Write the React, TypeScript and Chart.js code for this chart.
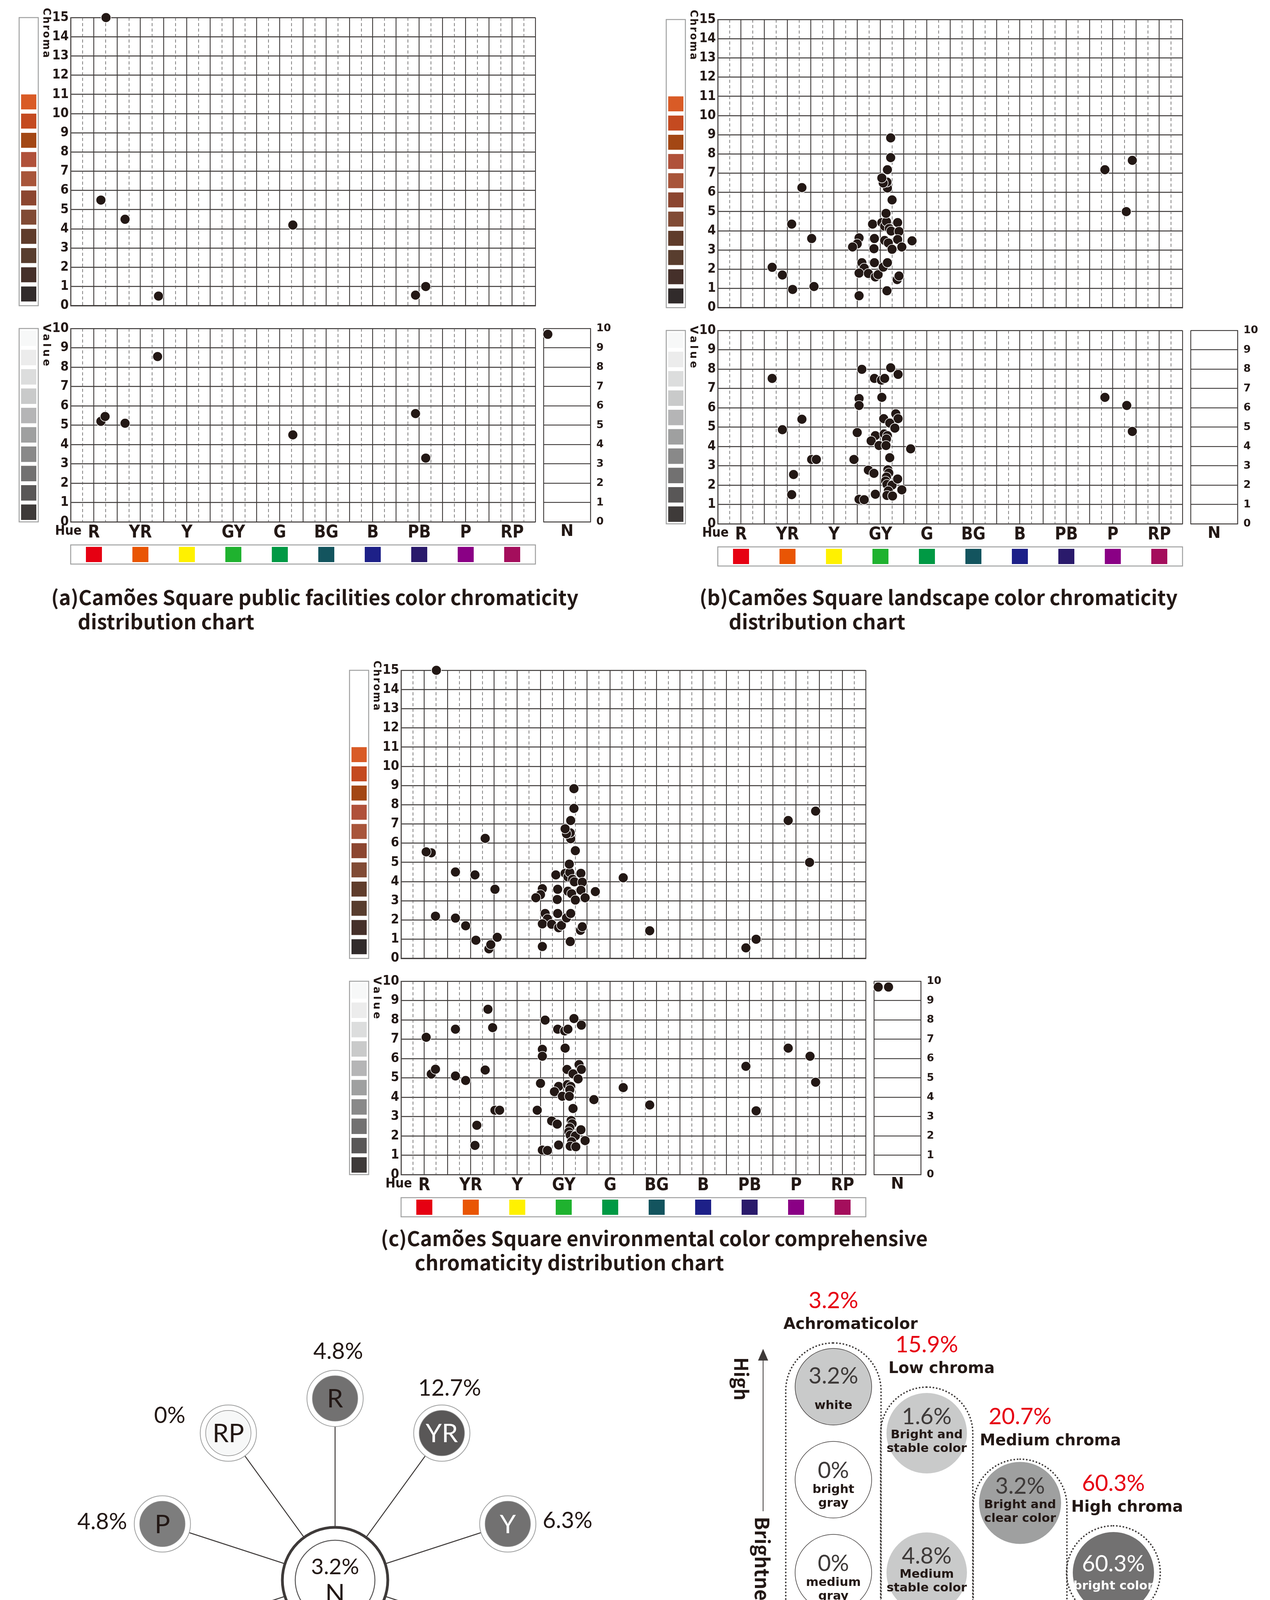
import React, { useEffect, useRef } from 'react';
import { Chart, registerables } from 'chart.js';
Chart.register(...registerables);

// ---------------- data ----------------
const HUES = ['R', 'YR', 'Y', 'GY', 'G', 'BG', 'B', 'PB', 'P', 'RP'];
const HUE_SWATCHES = ['#e60012', '#e95504', '#fff100', '#1fb22f', '#009944', '#13545e', '#1d2088', '#2a1a6b', '#8a0085', '#a40e5c'];
const CHROMA_SWATCHES = ['#312b2b', '#45302a', '#583d2e', '#5f3c2b', '#814b35', '#8c4630', '#a8553a', '#b0513a', '#a34714', '#c44a20', '#d95b26'];
const VALUE_SWATCHES = ['#3e3a39', '#595757', '#727171', '#898989', '#9fa0a0', '#b5b5b6', '#c9caca', '#dcdddd', '#ececec', '#f7f8f8'];

// (a) public facilities
const aChromaHue = [7.6, 6.5, 11.7, 18.9, 47.8, 74.2, 76.4];
const aChroma = [15.0, 5.5, 4.5, 0.5, 4.2, 0.55, 1.0];
const aValueHue = [6.5, 7.4, 11.7, 18.7, 47.8, 74.2, 76.4];
const aValue = [5.2, 5.45, 5.1, 8.55, 4.5, 5.6, 3.3];
const aNeutralValue = [9.7];

// (b) landscape
const bChromaHue = [11.7, 13.9, 16.1, 18.1, 15.9, 20.2, 20.7, 30.4, 30.4, 30.0, 29.0, 31.0, 31.5, 30.4, 32.4, 33.9, 34.5, 33.7, 35.6, 36.5, 33.6, 33.7, 33.3, 35.3, 35.9, 36.3, 36.9, 37.3, 38.7, 39.0, 35.9, 36.7, 37.5, 38.7, 39.6, 41.8, 38.6, 39.0, 36.4, 36.2, 37.5, 36.5, 36.4, 35.6, 35.3, 36.5, 37.2, 37.2, 83.3, 89.2, 87.9];
const bChroma = [2.1, 1.7, 0.95, 6.25, 4.35, 3.6, 1.1, 0.62, 3.63, 3.32, 3.16, 2.34, 2.06, 1.8, 1.78, 1.6, 1.72, 2.34, 2.11, 2.34, 3.07, 3.6, 4.35, 4.43, 4.24, 4.48, 4.12, 3.99, 4.43, 3.97, 3.5, 3.37, 3.04, 3.55, 3.16, 3.48, 1.46, 1.65, 0.88, 4.91, 5.61, 6.23, 6.54, 6.49, 6.75, 7.18, 7.81, 8.84, 7.18, 7.67, 5.0];
const bValueHue = [11.7, 13.9, 18.1, 20.2, 21.2, 16.3, 15.9, 31.0, 33.7, 35.2, 35.9, 37.2, 38.8, 30.4, 30.4, 35.3, 35.7, 38.3, 38.8, 37.0, 38.1, 30.0, 33.9, 35.8, 36.5, 36.3, 33.0, 34.7, 36.2, 41.5, 29.3, 37.0, 32.4, 33.6, 36.6, 36.8, 36.3, 36.1, 36.4, 37.5, 38.7, 39.6, 36.7, 33.9, 36.4, 37.6, 30.4, 31.5, 83.3, 88.0, 89.2];
const bValue = [7.52, 4.87, 5.41, 3.33, 3.33, 2.55, 1.51, 7.99, 7.52, 7.43, 7.52, 8.07, 7.73, 6.48, 6.12, 6.54, 5.44, 5.69, 5.44, 5.21, 4.95, 4.72, 4.56, 4.65, 4.56, 4.39, 4.29, 4.05, 4.05, 3.88, 3.33, 3.42, 2.78, 2.61, 2.8, 2.63, 2.42, 2.21, 2.04, 2.0, 2.32, 1.76, 1.7, 1.53, 1.47, 1.44, 1.27, 1.25, 6.54, 6.12, 4.78];
const bNeutralValue: number[] = [];

// (c) comprehensive = (a) + (b) + the remaining samples
const cExtraChromaHue = [5.4, 7.4, 19.3, 53.5];
const cExtraChroma = [5.55, 2.2, 0.72, 1.44];
const cExtraValueHue = [5.4, 19.7, 53.5];
const cExtraValue = [7.1, 7.6, 3.6];
const cExtraNeutralValue = [9.7];

// (d) hue proportions (%)
const huePct = [4.8, 12.7, 6.3, 60.3, 3.2, 1.6, 0, 3.2, 4.8, 0];
const neutralPct = 3.2;
const HUE_WHEEL_FILL = ['#727171', '#595757', '#727171', '#3e3a39', '#9fa0a0', '#b5b5b6', '#ffffff', '#a3a3a3', '#7d7d7d', '#f7f8f8'];
const HUE_WHEEL_TEXT = ['#231815', '#ffffff', '#ffffff', '#ffffff', '#231815', '#231815', '#231815', '#231815', '#231815', '#231815'];
const HUE_PCT_OFFSET = [[8, -120], [20, -115], [153, -8], [152, 60], [111, 83], [13, 112], [-27, 119], [-159, 29], [-154, -5], [-150, -45]];

// (e) tone classification (%)
const toneGroups = ['Achromaticolor', 'Low chroma', 'Medium chroma', 'High chroma'];
const toneGroupPct = [3.2, 15.9, 20.7, 60.3];
const achroPct = [3.2, 0, 0, 0, 0];
const achroNames = ['white', 'bright\ngray', 'medium\ngray', 'dark\ngray', 'black'];
const achroLevel = [4, 3, 2, 1, 0];
const lowPct = [1.6, 4.8, 9.5];
const lowNames = ['Bright and\nstable color', 'Medium\nstable color', 'Dark\nstable color'];
const lowLevel = [3.5, 2, 0.5];
const medPct = [3.2, 17.5];
const medNames = ['Bright and\nclear color', 'dark and\nclear color'];
const medLevel = [2.75, 1.25];
const highPct = [60.3];
const highNames = ['bright color'];
const highLevel = [2];

// ---------------- styles ----------------
const NARROW = '"Liberation Sans Narrow", "DejaVu Sans Condensed", "Noto Sans", sans-serif';
const DEJAVU = '"DejaVu Sans", "Noto Sans", sans-serif';
const LATO = 'Lato, "Noto Sans", sans-serif';
const CJK = '"Noto Sans CJK SC", "Noto Sans", sans-serif';
const GRID = '#3e3a39';
const DASH = '#595757';
const DOT = '#231815';

const PLOT_W = 1190;
const CHROMA_H = 743;
const VALUE_H = 495;
const VALUE_OFF = 796;
const YW = 150;
const TPAD = 35;

const pts = (xs: number[], ys: number[]) => xs.map((x, i) => ({ x, y: ys[i] }));

const baseOptions = { animation: false, responsive: true, maintainAspectRatio: false, devicePixelRatio: 1, events: [] };
const noPlugins = { legend: { display: false }, tooltip: { enabled: false } };

const fixedAxis = (min: number, max: number, extra: any = {}) => ({
  type: 'linear', display: false, min, max, bounds: 'data',
  afterBuildTicks: (s: any) => { s.min = min; s.max = max; },
  ...extra,
});

const dotDataset = (data: any[]) => ({ data, pointRadius: 12.5, pointHoverRadius: 12.5, backgroundColor: DOT, borderColor: '#ffffff', borderWidth: 1.5, clip: false });

const hueTickLabel = (v: any) => {
  const i = (Number(v) - 5) / 10;
  const r = Math.round(i);
  return Math.abs(i - r) < 1e-6 && r >= 0 && r < HUES.length ? HUES[r] : '';
};

const dashedHuePlugin = {
  id: 'dashedHue',
  beforeDatasetsDraw(chart: any) {
    const { ctx, chartArea: ca, scales } = chart;
    const x = scales.x;
    ctx.save();
    ctx.strokeStyle = DASH; ctx.lineWidth = 1.5; ctx.setLineDash([8, 6]);
    for (let v = 2.5; v < 100; v += 5) {
      const px = Math.round(x.getPixelForValue(v)) + 0.5;
      ctx.beginPath(); ctx.moveTo(px, ca.top); ctx.lineTo(px, ca.bottom); ctx.stroke();
    }
    ctx.restore();
  },
};

const sidePlugin = (max: number, swatches: string[], from: number, to: number, label: string, labelDy: number, size: number, spacing: number) => ({
  id: 'side',
  afterDraw(chart: any) {
    const { ctx, chartArea: ca, scales } = chart;
    const y = scales.y;
    const x0 = ca.left - 132;
    const w = 49;
    ctx.save();
    const yt = y.getPixelForValue(max);
    const yb = y.getPixelForValue(0);
    ctx.strokeStyle = '#9fa0a0'; ctx.lineWidth = 2.5; ctx.strokeRect(x0, yt, w, yb - yt);
    swatches.forEach((c, k) => {
      const t = y.getPixelForValue(k + to);
      const b = y.getPixelForValue(k + from);
      ctx.fillStyle = c; ctx.fillRect(x0 + 5, t, w - 10, b - t);
    });
    ctx.translate(ca.left - 63, ca.top + labelDy);
    ctx.rotate(Math.PI / 2);
    ctx.font = `bold ${size}px ${DEJAVU}`;
    (ctx as any).letterSpacing = `${spacing}px`;
    ctx.fillStyle = DOT; ctx.textAlign = 'left'; ctx.textBaseline = 'middle';
    ctx.fillText(label, 0, 0);
    ctx.restore();
  },
});

const hueBarPlugin = {
  id: 'hueBar',
  afterDraw(chart: any) {
    const { ctx, chartArea: ca, scales } = chart;
    const x = scales.x;
    const top = ca.bottom + 59;
    const h = 49;
    ctx.save();
    ctx.strokeStyle = '#9fa0a0'; ctx.lineWidth = 2.5; ctx.strokeRect(ca.left, top, ca.right - ca.left, h);
    HUES.forEach((_, i) => {
      const cx = x.getPixelForValue(10 * i + 5);
      ctx.fillStyle = HUE_SWATCHES[i]; ctx.fillRect(cx - 20.5, top + 5, 41, h - 10);
    });
    ctx.font = `bold 34px ${NARROW}`; ctx.fillStyle = DOT; ctx.textAlign = 'center'; ctx.textBaseline = 'middle';
    ctx.fillText('Hue', ca.left - 6, ca.bottom + 24);
    ctx.restore();
  },
};

function gridChart(kind: 'chroma' | 'value', data: any[]) {
  const isC = kind === 'chroma';
  const max = isC ? 15 : 10;
  return {
    type: 'scatter',
    data: { datasets: [dotDataset(data)] },
    options: {
      ...baseOptions, plugins: noPlugins,
      layout: { autoPadding: false, padding: { left: 0, right: 12, top: TPAD, bottom: isC ? 20 : 5 } },
      scales: {
        x: {
          type: 'linear', min: 0, max: 100,
          ticks: { stepSize: 5, display: !isC, autoSkip: false, maxRotation: 0, minRotation: 0, padding: 2, color: DOT, font: { family: NARROW, size: 44, weight: 'bold' }, callback: hueTickLabel },
          grid: { color: GRID, lineWidth: 2.2, drawTicks: false }, border: { color: GRID, width: 2.2 },
          afterFit: (s: any) => { s.height = isC ? 0 : 115; },
        },
        y: {
          type: 'linear', min: 0, max,
          ticks: { stepSize: 1, color: DOT, padding: 5, font: { family: NARROW, size: 34, weight: 'bold' } },
          grid: { color: GRID, lineWidth: 2.5, drawTicks: false }, border: { color: GRID, width: 2.5 },
          afterFit: (s: any) => { s.width = YW; },
        },
      },
    },
    plugins: [
      dashedHuePlugin,
      isC ? sidePlugin(15, CHROMA_SWATCHES, 0.22, 1.0, 'Chroma', -25, 26, 3) : sidePlugin(10, VALUE_SWATCHES, 0.1, 0.9, 'Value', -12, 27, 6),
      ...(isC ? [] : [hueBarPlugin]),
    ],
  };
}

function neutralChart(vals: number[]) {
  return {
    type: 'scatter',
    data: { datasets: [dotDataset(vals.map((v, i) => ({ x: 0.09 + 0.22 * i, y: v })))] },
    options: {
      ...baseOptions, plugins: noPlugins,
      layout: { autoPadding: false, padding: { left: 2, right: 0, top: TPAD, bottom: 5 } },
      scales: {
        x: {
          type: 'linear', min: 0, max: 1, ticks: { stepSize: 1, display: false },
          grid: { color: GRID, lineWidth: 2.2, drawTicks: false }, border: { color: GRID, width: 2.2 },
          title: { display: true, text: 'N', color: DOT, font: { family: DEJAVU, size: 40, weight: 'bold' }, padding: { top: 0, bottom: 10 } },
          afterFit: (s: any) => { s.height = 60; },
        },
        y: {
          type: 'linear', position: 'right', min: 0, max: 10,
          ticks: { stepSize: 1, color: DOT, padding: 15, font: { family: DEJAVU, size: 27, weight: 'bold' } },
          grid: { color: GRID, lineWidth: 2.2, drawTicks: false }, border: { color: GRID, width: 2.2 },
          afterFit: (s: any) => { s.width = 70; },
        },
      },
    },
  };
}

// ---------- (d) hue wheel ----------
const WHEEL_R = 465;
const hueAngle = (i: number) => ((-90 + 36 * i) * Math.PI) / 180;

const wheelTextPlugin = {
  id: 'wheelText',
  afterDatasetsDraw(chart: any) {
    const { ctx, scales } = chart;
    const xs = scales.x;
    const ys = scales.y;
    ctx.save(); ctx.textAlign = 'center'; ctx.textBaseline = 'middle';
    HUES.forEach((h, i) => {
      const px = xs.getPixelForValue(WHEEL_R * Math.cos(hueAngle(i)));
      const py = ys.getPixelForValue(WHEEL_R * Math.sin(hueAngle(i)));
      ctx.font = `400 66px ${LATO}`; ctx.fillStyle = HUE_WHEEL_TEXT[i]; ctx.fillText(h, px, py + 2);
      ctx.font = `400 58px ${LATO}`; ctx.fillStyle = DOT;
      ctx.fillText(`${huePct[i]}%`, px + HUE_PCT_OFFSET[i][0], py + HUE_PCT_OFFSET[i][1]);
    });
    const cx = xs.getPixelForValue(0);
    const cy = ys.getPixelForValue(0);
    ctx.fillStyle = DOT;
    ctx.font = `400 56px ${LATO}`; ctx.fillText(`${neutralPct}%`, cx, cy - 33);
    ctx.font = `400 66px ${LATO}`; ctx.fillText('N', cx, cy + 36);
    ctx.restore();
  },
};

function wheelChart() {
  const sat = HUES.map((_, i) => ({ x: WHEEL_R * Math.cos(hueAngle(i)), y: WHEEL_R * Math.sin(hueAngle(i)) }));
  const spokes = sat.map((p) => ({ data: [{ x: 0, y: 0 }, p], showLine: true, borderColor: '#3e3a39', borderWidth: 2.5, pointRadius: 0, order: 10, clip: false }));
  return {
    type: 'scatter',
    data: {
      datasets: [
        { data: [{ x: 0, y: 0 }], pointRadius: 102, backgroundColor: '#ffffff', borderColor: '#595757', borderWidth: 2.5, order: 1, clip: false },
        { data: [{ x: 0, y: 0 }], pointRadius: 135, backgroundColor: '#ffffff', borderColor: '#3e3a39', borderWidth: 7, order: 2, clip: false },
        { data: sat, pointRadius: 58, backgroundColor: HUE_WHEEL_FILL, borderColor: '#8a8a8a', borderWidth: 1.5, order: 3, clip: false },
        { data: sat, pointRadius: 72, backgroundColor: '#ffffff', borderColor: '#9fa0a0', borderWidth: 2, order: 4, clip: false },
        ...spokes,
      ],
    },
    options: {
      ...baseOptions, plugins: noPlugins,
      layout: { autoPadding: false, padding: 0 },
      scales: { x: fixedAxis(-760, 760), y: fixedAxis(-640, 640, { reverse: true }) },
    },
    plugins: [wheelTextPlugin],
  };
}

// ---------- (e) tone classification ----------
const TONE_W = 1300;
const TONE_H = 1470;
const TONE_UX = 239;
const TONE_UY = 238;
const TONE_X0 = 294;
const TONE_Y0 = 1222;
const TONE_R = [98, 103, 105, 104];
const TONE_FILL = ['#c9caca', '#c9caca', '#9fa0a0', '#727171'];
const TONE_PAD = [[14, 22, 24], [15, 15, 15], [7, 15, 15], [16, 16, 16]];
const TONE_NAME_DX = [-128, -98, -103, -108];

const toneSets = [
  { pct: achroPct, names: achroNames, level: achroLevel },
  { pct: lowPct, names: lowNames, level: lowLevel },
  { pct: medPct, names: medNames, level: medLevel },
  { pct: highPct, names: highNames, level: highLevel },
];

const tonePlugin = {
  id: 'tone',
  beforeDatasetsDraw(chart: any) {
    const { ctx, scales } = chart;
    const xs = scales.x;
    const ys = scales.y;
    ctx.save();
    toneSets.forEach((g, gi) => {
      const cx = xs.getPixelForValue(gi);
      const r = TONE_R[gi];
      const [pt, pb, px] = TONE_PAD[gi];
      const top = ys.getPixelForValue(Math.max(...g.level)) - r - pt;
      const bottom = ys.getPixelForValue(Math.min(...g.level)) + r + pb;
      const hw = r + px;
      ctx.beginPath(); ctx.strokeStyle = '#3e3a39'; ctx.lineWidth = 4; ctx.lineCap = 'round'; ctx.setLineDash([0.5, 8]);
      (ctx as any).roundRect(cx - hw, top, 2 * hw, bottom - top, hw);
      ctx.stroke(); ctx.setLineDash([]);
      ctx.textBaseline = 'middle'; ctx.textAlign = 'center'; ctx.fillStyle = '#e60012'; ctx.font = `400 58px ${LATO}`;
      ctx.fillText(`${toneGroupPct[gi]}%`, cx, top - 108);
      ctx.textAlign = 'left'; ctx.fillStyle = DOT; ctx.font = `bold 40px ${DEJAVU}`;
      ctx.fillText(toneGroups[gi], cx + TONE_NAME_DX[gi], top - 46);
    });
    ctx.restore();
  },
  afterDatasetsDraw(chart: any) {
    const { ctx, scales } = chart;
    const xs = scales.x;
    const ys = scales.y;
    ctx.save(); ctx.textAlign = 'center'; ctx.textBaseline = 'middle';
    toneSets.forEach((g, gi) => {
      g.level.forEach((lv, j) => {
        const cx = xs.getPixelForValue(gi);
        const cy = ys.getPixelForValue(lv);
        const lines = g.names[j].split('\n');
        let pctDy;
        let lineDy;
        if (gi === 0) {
          if (lines.length === 1) { pctDy = -27; lineDy = [49]; } else { pctDy = -23; lineDy = [26, 61]; }
        } else if (gi === 3) { pctDy = -22; lineDy = [35]; } else { pctDy = -42; lineDy = [5, 40]; }
        const light = gi === 3;
        ctx.fillStyle = light ? '#ffffff' : '#3e3a39'; ctx.font = `400 58px ${LATO}`;
        ctx.fillText(`${g.pct[j]}%`, cx, cy + pctDy);
        ctx.fillStyle = light ? '#ffffff' : DOT; ctx.font = `bold 31px ${DEJAVU}`;
        lines.forEach((ln, k) => ctx.fillText(ln, cx, cy + lineDy[k]));
      });
    });
    ctx.restore();
  },
  afterDraw(chart: any) {
    const { ctx } = chart;
    ctx.save();
    ctx.strokeStyle = '#3e3a39'; ctx.fillStyle = '#3e3a39'; ctx.lineWidth = 2;
    const vx = 114; const vt = 173; const vb = 1276;
    ctx.beginPath(); ctx.moveTo(vx, vt + 20); ctx.lineTo(vx, vb - 20); ctx.stroke();
    ctx.beginPath(); ctx.moveTo(vx, vt); ctx.lineTo(vx - 13, vt + 30); ctx.lineTo(vx + 13, vt + 30); ctx.closePath(); ctx.fill();
    ctx.beginPath(); ctx.moveTo(vx, vb); ctx.lineTo(vx - 13, vb - 30); ctx.lineTo(vx + 13, vb - 30); ctx.closePath(); ctx.fill();
    const hy = 1374; const hl = 181; const hr = 1053;
    ctx.lineWidth = 1.5;
    ctx.beginPath(); ctx.moveTo(hl + 20, hy); ctx.lineTo(hr - 20, hy); ctx.stroke();
    ctx.beginPath(); ctx.moveTo(hl, hy); ctx.lineTo(hl + 30, hy - 12); ctx.lineTo(hl + 30, hy + 12); ctx.closePath(); ctx.fill();
    ctx.beginPath(); ctx.moveTo(hr, hy); ctx.lineTo(hr - 30, hy - 12); ctx.lineTo(hr - 30, hy + 12); ctx.closePath(); ctx.fill();
    ctx.textAlign = 'center'; ctx.textBaseline = 'middle'; ctx.font = `bold 40px ${DEJAVU}`;
    const cw = ctx.measureText('Chroma').width;
    ctx.fillStyle = '#ffffff'; ctx.fillRect(624 - cw / 2 - 14, hy - 26, cw + 28, 46);
    ctx.fillStyle = DOT;
    ctx.fillText('Chroma', 624, 1366); ctx.fillText('Low', 211, 1420); ctx.fillText('High', 1049, 1425);
    const vtext = (t: string, x: number, y: number, size: number, bg: boolean) => {
      ctx.save(); ctx.translate(x, y); ctx.rotate(Math.PI / 2); ctx.font = `bold ${size}px ${CJK}`;
      if (bg) { const w = ctx.measureText(t).width; ctx.fillStyle = '#ffffff'; ctx.fillRect(-w / 2 - 14, -28, w + 28, 56); }
      ctx.fillStyle = DOT; ctx.fillText(t, 0, 0); ctx.restore();
    };
    vtext('High', 58, 250, 48, false);
    vtext('Brightness', 112, 735, 50, true);
    vtext('Low', 64, 1219, 48, false);
    ctx.restore();
  },
};

function toneChart() {
  const datasets = toneSets.map((g, gi) => ({
    data: g.level.map((lv) => ({ x: gi, y: lv })),
    pointRadius: TONE_R[gi], pointHoverRadius: TONE_R[gi],
    backgroundColor: g.pct.map((p) => (p === 0 ? '#ffffff' : TONE_FILL[gi])),
    borderColor: '#3e3a39', borderWidth: gi === 0 ? 1.5 : 0, clip: false,
  }));
  return {
    type: 'scatter',
    data: { datasets },
    options: {
      ...baseOptions, plugins: noPlugins,
      layout: { autoPadding: false, padding: 0 },
      scales: {
        x: fixedAxis(-TONE_X0 / TONE_UX, (TONE_W - TONE_X0) / TONE_UX),
        y: fixedAxis(-(TONE_H - TONE_Y0) / TONE_UY, TONE_Y0 / TONE_UY),
      },
    },
    plugins: [tonePlugin],
  };
}

// ---------------- components ----------------
function ChartBox({ x, y, w, h, make }: { x: number; y: number; w: number; h: number; make: () => any }) {
  const ref = useRef<HTMLCanvasElement | null>(null);
  useEffect(() => {
    if (!ref.current) return;
    const chart = new Chart(ref.current, make());
    return () => chart.destroy();
  }, []);
  return (
    <div style={{ position: 'absolute', left: x, top: y, width: w, height: h }}>
      <canvas ref={ref} />
    </div>
  );
}

function Panel({ left, top, chroma, value, neutral }: { left: number; top: number; chroma: any[]; value: any[]; neutral: number[] }) {
  const vTop = top + VALUE_OFF;
  return (
    <>
      <ChartBox x={left - YW} y={top - TPAD} w={YW + PLOT_W + 12} h={TPAD + CHROMA_H + 20} make={() => gridChart('chroma', chroma)} />
      <ChartBox x={left - YW} y={vTop - TPAD} w={YW + PLOT_W + 12} h={TPAD + VALUE_H + 120} make={() => gridChart('value', value)} />
      <ChartBox x={left + PLOT_W + 19} y={vTop - TPAD} w={192} h={TPAD + VALUE_H + 65} make={() => neutralChart(neutral)} />
    </>
  );
}

function Caption({ x1, x2, y, l1, l2, font, size }: { x1: number; x2: number; y: number; l1: string; l2: string; font: string; size: number }) {
  const st: any = { position: 'absolute', whiteSpace: 'nowrap', fontFamily: font, fontWeight: 700, fontSize: size, lineHeight: '62px', color: DOT };
  return (
    <>
      <div style={{ ...st, left: x1, top: y - 40 }}>{l1}</div>
      <div style={{ ...st, left: x2, top: y + 22 }}>{l2}</div>
    </>
  );
}

export default function App() {
  const cChroma = [...pts(aChromaHue, aChroma), ...pts(bChromaHue, bChroma), ...pts(cExtraChromaHue, cExtraChroma)];
  const cValue = [...pts(aValueHue, aValue), ...pts(bValueHue, bValue), ...pts(cExtraValueHue, cExtraValue)];
  const cNeutral = [...aNeutralValue, ...bNeutralValue, ...cExtraNeutralValue];
  return (
    <div style={{ position: 'absolute', left: 0, top: 0, width: 3252, height: 4886, background: '#ffffff', overflow: 'hidden' }}>
      <Panel left={181} top={45} chroma={pts(aChromaHue, aChroma)} value={pts(aValueHue, aValue)} neutral={aNeutralValue} />
      <Panel left={1838} top={50} chroma={pts(bChromaHue, bChroma)} value={pts(bValueHue, bValue)} neutral={bNeutralValue} />
      <Panel left={1027} top={1716} chroma={cChroma} value={cValue} neutral={cNeutral} />
      <ChartBox x={98} y={3405} w={1520} h={1280} make={wheelChart} />
      <ChartBox x={1840} y={3280} w={TONE_W} h={TONE_H} make={toneChart} />

      <Caption x1={131} x2={199} y={1536} l1="(a)Camões Square public facilities color chromaticity" l2="distribution chart" font={CJK} size={52} />
      <Caption x1={1791} x2={1866} y={1536} l1="(b)Camões Square landscape color chromaticity" l2="distribution chart" font={CJK} size={52} />
      <Caption x1={975} x2={1062} y={3177} l1="(c)Camões Square environmental color comprehensive" l2="chromaticity distribution chart" font={CJK} size={52} />
      <Caption x1={156} x2={218} y={4769} l1="(d) Camões Square environmental color hue proportion" l2="distribution chart" font={CJK} size={52} />
      <Caption x1={1888} x2={1956} y={4769} l1="(e) Camões Square environmental color tone" l2="proportion classification chart" font={DEJAVU} size={42} />
    </div>
  );
}
